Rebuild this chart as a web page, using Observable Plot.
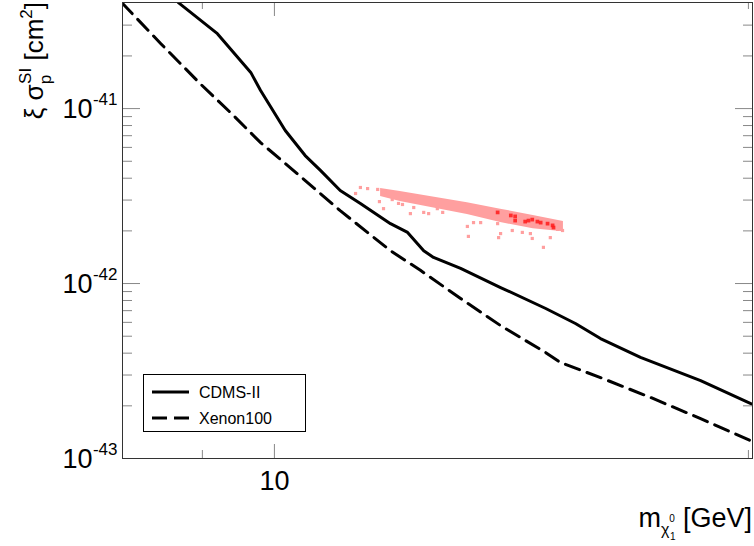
<!DOCTYPE html>
<html><head><meta charset="utf-8">
<script src="https://cdn.jsdelivr.net/npm/d3@7"></script>
<script src="https://cdn.jsdelivr.net/npm/@observablehq/plot@0.6"></script>
<style>body{margin:0;background:#fff;} svg{display:block;}</style>
</head><body><div id="chart"></div>
<script>
// CDMS-II limit (mass in GeV, cross-section in cm^2)
const cdmsMass  = [8.69, 9.20, 9.66, 9.80, 10.16, 10.46, 10.70, 11.01, 11.34, 11.85, 12.15, 12.44, 12.62, 13.13, 13.92, 14.87, 15.53, 16.11, 17.08, 18.65, 20.12];
const cdmsSigma = [4.03e-41, 2.68e-41, 1.61e-41, 1.27e-41, 7.49e-42, 5.39e-42, 4.42e-42, 3.40e-42, 2.87e-42, 2.20e-42, 1.96e-42, 1.54e-42, 1.41e-42, 1.22e-42, 9.49e-43, 7.20e-43, 5.91e-43, 4.85e-43, 3.78e-43, 2.79e-43, 2.04e-43];
// Xenon100 limit
const xenonMass  = [8.0, 8.47, 8.97, 9.42, 9.80, 10.39, 11.01, 11.85, 12.38, 13.13, 13.92, 14.87, 15.19, 16.11, 17.34, 18.65, 20.12];
const xenonSigma = [4.03e-41, 2.35e-41, 1.39e-41, 9.12e-42, 6.39e-42, 4.09e-42, 2.61e-42, 1.54e-42, 1.19e-42, 8.21e-43, 5.75e-43, 4.03e-43, 3.54e-43, 2.90e-43, 2.23e-43, 1.69e-43, 1.25e-43];
// dense band of model points
const bandMass  = [11.68, 12.02, 13.26, 13.92, 14.60, 15.26];
const bandUpper = [3.49e-42, 3.36e-42, 2.90e-42, 2.66e-42, 2.45e-42, 2.26e-42];
const bandLower = [3.14e-42, 2.94e-42, 2.48e-42, 2.23e-42, 2.06e-42, 1.98e-42];
// scattered model points
const ptMass  = [11.26, 11.34, 11.46, 11.63, 11.76, 11.88, 11.66, 11.73, 11.99, 12.06, 12.20, 12.26, 12.44, 12.53, 12.69, 12.79, 13.26, 13.28, 13.38, 13.52, 13.86, 13.92, 13.88, 14.16, 14.37, 14.54, 14.58, 14.82, 14.97, 15.13, 15.24];
const ptSigma = [3.27e-42, 3.54e-42, 3.49e-42, 3.45e-42, 3.36e-42, 3.02e-42, 2.94e-42, 2.68e-42, 2.87e-42, 2.83e-42, 2.51e-42, 2.72e-42, 2.55e-42, 2.51e-42, 2.68e-42, 2.55e-42, 2.12e-42, 1.86e-42, 2.23e-42, 2.23e-42, 2.20e-42, 1.93e-42, 1.83e-42, 2.01e-42, 1.96e-42, 1.93e-42, 1.81e-42, 1.61e-42, 1.83e-42, 2.04e-42, 2.01e-42];
// highlighted (dark red) model points
const hiMass  = [13.86, 14.13, 14.22, 14.22, 14.43, 14.50, 14.58, 14.69, 14.76, 14.91, 15.02, 15.04];
const hiSigma = [2.55e-42, 2.45e-42, 2.42e-42, 2.29e-42, 2.26e-42, 2.29e-42, 2.32e-42, 2.26e-42, 2.23e-42, 2.20e-42, 2.15e-42, 2.09e-42];
// ticks
const xMajor = [10];
const xMinor = [9, 20];
const yMajor = [1e-43, 1e-42, 1e-41];
const yMinor = [2e-43, 3e-43, 4e-43, 5e-43, 6e-43, 7e-43, 8e-43, 9e-43, 2e-42, 3e-42, 4e-42, 5e-42, 6e-42, 7e-42, 8e-42, 9e-42, 2e-41, 3e-41];
const seriesNames = ["CDMS-II", "Xenon100"];

const cdms = cdmsMass.map((m, i) => ({m, s: cdmsSigma[i]}));
const xenon = xenonMass.map((m, i) => ({m, s: xenonSigma[i]}));
const band = bandMass.map((m, i) => ({m, lo: bandLower[i], hi: bandUpper[i]}));
const pts = ptMass.map((m, i) => ({m, s: ptSigma[i]}));
const hi = hiMass.map((m, i) => ({m, s: hiSigma[i]}));

const font = "'Liberation Sans', Arial, Helvetica, sans-serif";
const tickStroke = "#888";
const tk = (data, anchor, size) => (anchor === "left" || anchor === "right")
  ? Plot.axisY(data, {anchor, tickSize: size, stroke: tickStroke, tickFormat: () => "", label: null})
  : Plot.axisX(data, {anchor, tickSize: size, stroke: tickStroke, tickFormat: () => "", label: null});

const plot = Plot.plot({
  width: 754, height: 546,
  marginLeft: 122, marginRight: 2, marginTop: 2, marginBottom: 88,
  x: {type: "log", domain: [8.008, 20.12], axis: null},
  y: {type: "log", domain: [1e-43, 4.04e-41], axis: null},
  style: {fontFamily: font, background: "white", color: "black"},
  marks: [
    Plot.areaY(band, {x: "m", y1: "lo", y2: "hi", fill: "#ff9f9f"}),
    Plot.dot(pts, {x: "m", y: "s", symbol: "square", r: 1.8, fill: "#ff9f9f"}),
    Plot.dot(hi, {x: "m", y: "s", symbol: "square", r: 2.1, fill: "#ff1a1a", fillOpacity: 0.85}),
    Plot.line(cdms, {x: "m", y: "s", stroke: "black", strokeWidth: 3, clip: true}),
    Plot.line(xenon, {x: "m", y: "s", stroke: "black", strokeWidth: 3, strokeDasharray: "15,8", clip: true}),
    tk(yMajor, "left", -18), tk(yMinor, "left", -10),
    tk(yMajor, "right", -18), tk(yMinor, "right", -10),
    tk(xMajor, "bottom", -14), tk(xMinor, "bottom", -8),
    tk(xMajor, "top", -13), tk(xMinor, "top", -6),
    Plot.frame({stroke: "#333"}),
    Plot.text(yMajor, {y: d => d, frameAnchor: "left", text: () => "10", textAnchor: "end", dx: -30, dy: 1, fontSize: 27}),
    Plot.text(yMajor, {y: d => d, frameAnchor: "left", text: d => String(Math.round(Math.log10(d))), textAnchor: "end", dx: -5, dy: -9, fontSize: 17}),
    Plot.text(xMajor, {x: d => d, frameAnchor: "bottom", text: d => String(d), dy: 31, fontSize: 27})
  ]
});
document.getElementById("chart").appendChild(plot);

const svg = d3.select(plot);
// y title
const yt = svg.append("text").attr("transform", "translate(43,2) rotate(-90)")
  .attr("text-anchor", "end").attr("font-family", font).attr("font-size", 26).attr("fill", "black");
yt.append("tspan").text("ξ σ");
yt.append("tspan").attr("font-size", 17).attr("dy", 8).text("p");
yt.append("tspan").attr("font-size", 17).attr("dx", -9).attr("dy", -20).text("SI");
yt.append("tspan").attr("dy", 12).text(" [cm");
yt.append("tspan").attr("font-size", 17).attr("dy", -11).text("2");
yt.append("tspan").attr("dy", 11).text("]");
// x title
const xt = svg.append("text").attr("x", 752).attr("y", 527)
  .attr("text-anchor", "end").attr("font-family", font).attr("font-size", 27).attr("fill", "black");
xt.append("tspan").text("m");
xt.append("tspan").attr("font-size", 16).attr("dy", 8).text("χ");
xt.append("tspan").attr("font-size", 10).attr("dx", 0).attr("dy", -13).text("0");
xt.append("tspan").attr("font-size", 10).attr("dx", -5).attr("dy", 18).text("1");
xt.append("tspan").attr("dy", -13).text(" [GeV]");
// legend
const lg = svg.append("g").attr("font-family", font).attr("font-size", 16).attr("text-anchor", "start");
lg.append("rect").attr("x", 143.5).attr("y", 374.5).attr("width", 162).attr("height", 57)
  .attr("fill", "white").attr("stroke", "black");
seriesNames.forEach((name, i) => {
  const y = 392 + i * 26;
  lg.append("path").attr("d", `M152,${y}H189`).attr("stroke", "black").attr("stroke-width", 3)
    .attr("stroke-dasharray", i === 1 ? "15,7" : null);
  lg.append("text").attr("x", 199).attr("y", y + 6).attr("fill", "black").attr("text-anchor", "start").text(name);
});
</script>
</body></html>
